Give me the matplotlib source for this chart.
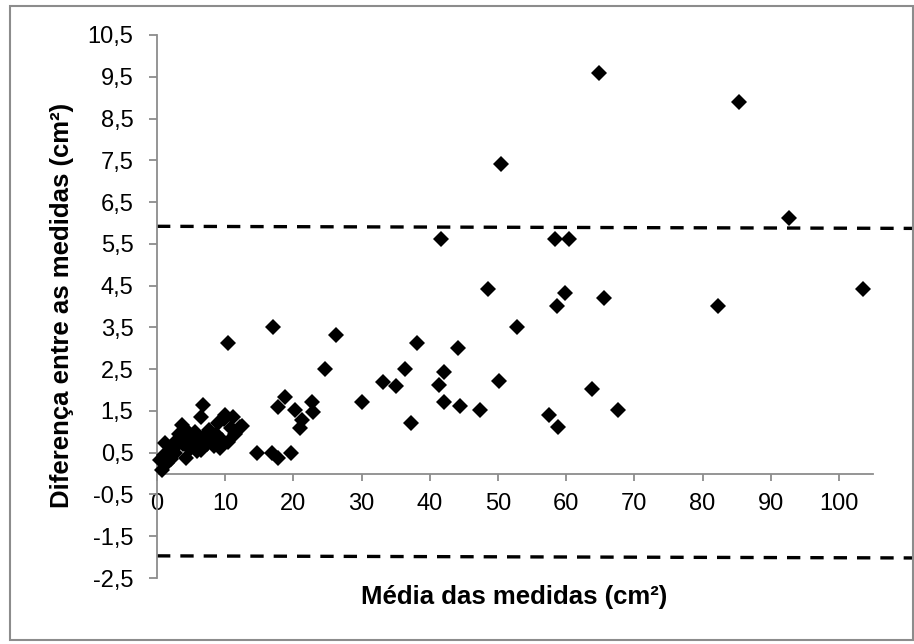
import matplotlib
matplotlib.use("Agg")
import matplotlib.pyplot as plt
from matplotlib.patches import Rectangle

plt.rcParams['font.family'] = ['Liberation Sans', 'DejaVu Sans']

# Média das medidas (cm²) e diferença entre as medidas (cm²)
media = [64.8, 85.4, 50.4, 92.7, 41.6, 58.4, 60.4, 48.6, 103.6, 59.8,
         65.5, 58.7, 82.3, 52.8, 44.1, 42.1, 41.4, 50.1, 63.8, 42.1,
         44.4, 47.3, 57.5, 58.8, 67.6,
         10.4, 17.0, 26.3, 38.1, 24.6, 36.4, 33.2, 35.1, 30.0, 37.3,
         18.8, 17.8, 20.2, 22.7, 22.9, 21.2, 21.0, 14.7, 16.8, 17.8, 19.7,
         0.7, 0.4, 1.2, 1.0, 1.5, 1.8, 2.0, 2.3, 2.6, 3.0,
         3.2, 3.6, 3.8, 4.3, 4.2, 4.5, 4.8, 5.0, 5.3, 5.6,
         5.9, 6.2, 6.5, 6.8, 6.5, 7.0, 7.3, 7.6, 8.0, 8.3,
         8.6, 9.0, 9.2, 9.5, 9.8, 10.0, 10.4, 10.8, 11.2, 11.5,
         12.2, 12.5]
diferenca = [9.60, 8.90, 7.40, 6.11, 5.61, 5.61, 5.61, 4.41, 4.41, 4.32,
             4.21, 4.01, 4.01, 3.51, 3.01, 2.42, 2.11, 2.22, 2.02, 1.71,
             1.62, 1.52, 1.41, 1.12, 1.52,
             3.12, 3.52, 3.32, 3.12, 2.50, 2.50, 2.20, 2.10, 1.71, 1.22,
             1.84, 1.60, 1.52, 1.72, 1.48, 1.28, 1.08, 0.50, 0.50, 0.37, 0.50,
             0.09, 0.33, 0.73, 0.45, 0.25, 0.55, 0.35, 0.60, 0.50, 0.80,
             0.95, 1.16, 0.70, 0.37, 0.90, 1.00, 0.60, 0.85, 0.75, 1.00,
             0.55, 0.80, 1.36, 1.63, 0.57, 0.90, 0.70, 1.05, 0.80, 0.65,
             0.95, 1.20, 0.61, 0.80, 1.30, 1.40, 0.75, 1.10, 1.36, 0.95,
             1.12, 1.15]

# limites de concordância (linhas tracejadas)
linha_x = [0, 110.8]
limite_sup = [5.92, 5.87]
limite_inf = [-1.97, -2.02]

yticks = [-2.5, -1.5, -0.5, 0.5, 1.5, 2.5, 3.5, 4.5, 5.5, 6.5, 7.5, 8.5, 9.5, 10.5]
xticks = [0, 10, 20, 30, 40, 50, 60, 70, 80, 90, 100]

W, H = 914, 644
fig = plt.figure(figsize=(W / 100, H / 100), dpi=100)
ax = fig.add_axes([157 / W, 66 / H, (873 - 157) / W, (609 - 66) / H])

cinza = '#8c8c8c'

ax.plot(media, diferenca, linestyle='none', marker='D', markersize=8.6,
        color='black', markeredgewidth=0, clip_on=False, zorder=3)

for lim in (limite_sup, limite_inf):
    ax.plot(linha_x, lim, color='black', linewidth=2.4,
            linestyle=(0, (4.0, 3.0)), clip_on=False, zorder=2)

ax.set_xlim(0, 105)
ax.set_ylim(-2.5, 10.5)

ax.spines['top'].set_visible(False)
ax.spines['right'].set_visible(False)
ax.spines['bottom'].set_position(('data', 0))
for s in ('left', 'bottom'):
    ax.spines[s].set_color(cinza)
    ax.spines[s].set_linewidth(1.3)

ax.set_yticks(yticks)
ax.set_yticklabels([f'{v:.1f}'.replace('.', ',') for v in yticks])
ax.set_xticks(xticks)
ax.set_xticklabels([str(v) for v in xticks])

ax.tick_params(axis='y', direction='out', length=6, width=1.3, color=cinza,
               labelsize=17, pad=11)
ax.tick_params(axis='x', direction='out', length=5, width=1.3, color=cinza,
               labelsize=17, pad=9)

fig.text(514 / W, 1 - 597 / H, 'Média das medidas (cm²)', ha='center',
         va='center', fontsize=18.5, fontweight='bold')
fig.text(62 / W, 1 - 305 / H, 'Diferença entre as medidas (cm²)', ha='center',
         va='center', rotation=90, fontsize=18.5, fontweight='bold')

# borda do gráfico
fig.patches.append(Rectangle((10 / W, 4 / H), 903 / W, 634 / H,
                             transform=fig.transFigure, fill=False,
                             edgecolor=cinza, linewidth=1.5))

fig.savefig('out.png', dpi=100)
